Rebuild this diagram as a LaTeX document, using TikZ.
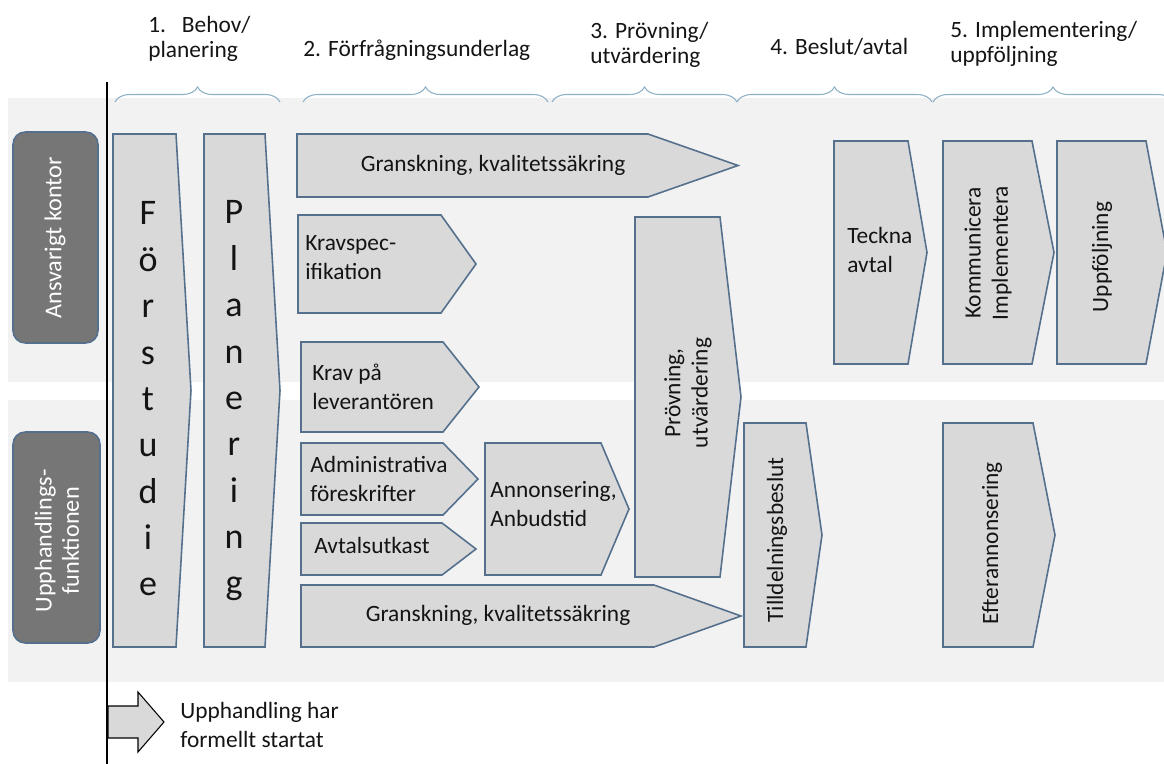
\documentclass[tikz,border=0pt]{standalone}
\usepackage{fontspec}
\setmainfont{Carlito}
\usetikzlibrary{decorations.pathreplacing}

\definecolor{bandgray}{RGB}{242,242,242}
\definecolor{boxgray}{RGB}{217,217,217}
\definecolor{boxline}{RGB}{84,112,140}
\definecolor{rowgray}{RGB}{118,118,118}
\definecolor{bracecol}{RGB}{140,176,196}
\definecolor{txt}{RGB}{20,20,20}

% chevron: x left, y top, x shoulder, x tip, y bottom
\newcommand{\chevron}[5]{%
  \draw[chev] (#1,#2) -- (#3,#2) -- (#4,{(#2+#5)/2}) -- (#3,#5) -- (#1,#5) -- cycle;}

\tikzset{
  chev/.style={fill=boxgray, draw=boxline, line width=0.9pt},
  lbl/.style={text=txt, inner sep=0pt, font=\fontsize{13.3}{16.5}\selectfont},
  hdr/.style={lbl, anchor=west, align=left, font=\fontsize{13.3}{14.5}\selectfont},
  vlbl/.style={lbl, rotate=90, align=center, font=\fontsize{13.3}{15.5}\selectfont},
  bigtxt/.style={text=txt, inner sep=0pt, align=center, font=\fontsize{20.5}{26.4}\selectfont},
  rowbox/.style={fill=rowgray, draw=boxline, line width=0.9pt, rounded corners=7pt},
  rowtxt/.style={text=white, rotate=90, align=center, inner sep=0pt, font=\fontsize{13.8}{15.5}\selectfont},
  brc/.style={draw=bracecol, line width=0.6pt, decorate, decoration={brace, amplitude=0.3cm}}
}

\begin{document}
\begin{tikzpicture}[x=0.02cm, y=-0.02cm]

    \useasboundingbox (0,0) rectangle (1164,764);

    % bakgrund
    \fill[bandgray] (8,98) rectangle (1164,382);
    \fill[bandgray] (8,400) rectangle (1164,682);

    % rubriker
    \node[hdr] (h1) at (148,39) {1.\ \ \ Behov/\\planering};
    \node[hdr] (h2) at (303,50) {2. Förfrågningsunderlag};
    \node[hdr] (h3) at (590,45) {3. Prövning/\\utvärdering};
    \node[hdr] (h4) at (770,47) {4. Beslut/avtal};
    \node[hdr] (h5) at (950,44) {5. Implementering/\\uppföljning};

    % klamrar
    \draw[brc] (115,102) -- (280,102);
    \draw[brc] (303,102) -- (548,102);
    \draw[brc] (552,102) -- (737,102);
    \draw[brc] (737,102) -- (932,102);
    \draw[brc] (933,102) -- (1173,102);

    % tidslinje
    \draw[black, line width=0.6pt] (107,82) -- (107,764);

    % roller
    \draw[rowbox] (13,132) rectangle (98,343);
    \node[rowtxt] (ansv) at (55,238) {Ansvarigt kontor};
    \draw[rowbox] (13,432) rectangle (100,643);
    \node[rowtxt] (upph) at (57,541) {Upphandlings-\\funktionen};

    % fas 1
    \chevron{113}{134}{176}{191}{647}
    \node[bigtxt] (forst) at (148,399) {F\\ö\\r\\s\\t\\u\\d\\i\\e};
    \chevron{204}{134}{265}{280}{647}
    \node[bigtxt] (plan) at (234,401) {P\\l\\a\\n\\e\\r\\i\\n\\g};

    % fas 2
    \chevron{297}{134}{648}{738}{197}
    \node[lbl] (gran1) at (493,165) {Granskning, kvalitetssäkring};
    \chevron{298}{215}{441}{476}{313}
    \node[lbl, anchor=west, align=left] (kspec) at (305,258) {Kravspec-\\ifikation};
    \chevron{301}{342}{443}{479}{432}
    \node[lbl, anchor=west, align=left] (klev) at (312,387) {Krav på\\leverantören};
    \chevron{301}{443}{443}{478}{515}
    \node[lbl, anchor=west, align=left] (adm) at (310,479) {Administrativa\\föreskrifter};
    \chevron{301}{523}{442}{476}{575}
    \node[lbl, anchor=west] (avut) at (314,545) {Avtalsutkast};
    \chevron{485}{443}{601}{629}{575}
    \node[lbl, anchor=west, align=left] (ann) at (490,504) {Annonsering,\\Anbudstid};
    \chevron{301}{585}{654}{741}{647}
    \node[lbl] (gran2) at (498,615) {Granskning, kvalitetssäkring};

    % fas 3
    \chevron{635}{217}{720}{741}{577}
    \node[vlbl] (prov) at (688,393) {Prövning,\\utvärdering};

    % fas 4
    \chevron{744}{423}{806}{822}{647}
    \node[vlbl] (tilld) at (777,540) {Tilldelningsbeslut};
    \chevron{834}{141}{908}{927}{364}
    \node[lbl, anchor=west, align=left] (teck) at (847,250) {Teckna\\avtal};

    % fas 5
    \chevron{943}{141}{1032}{1054}{364}
    \node[vlbl] (komm) at (988,253) {Kommunicera\\Implementera};
    \chevron{1057}{141}{1146}{1167}{364}
    \node[vlbl] (uppf) at (1102,257) {Uppföljning};
    \chevron{943}{423}{1033}{1055}{647}
    \node[vlbl] (efter) at (992,543) {Efterannonsering};

    % teckenförklaring
    \draw[fill=boxgray, draw=black, line width=0.6pt] (108,706) -- (138,706) -- (138,692) -- (164,722)
        -- (138,752) -- (138,738) -- (108,738) -- cycle;
    \node[lbl, anchor=west, align=left, font=\fontsize{13.3}{17}\selectfont] (start) at (180,725)
        {Upphandling har\\formellt startat};

\end{tikzpicture}
\end{document}
